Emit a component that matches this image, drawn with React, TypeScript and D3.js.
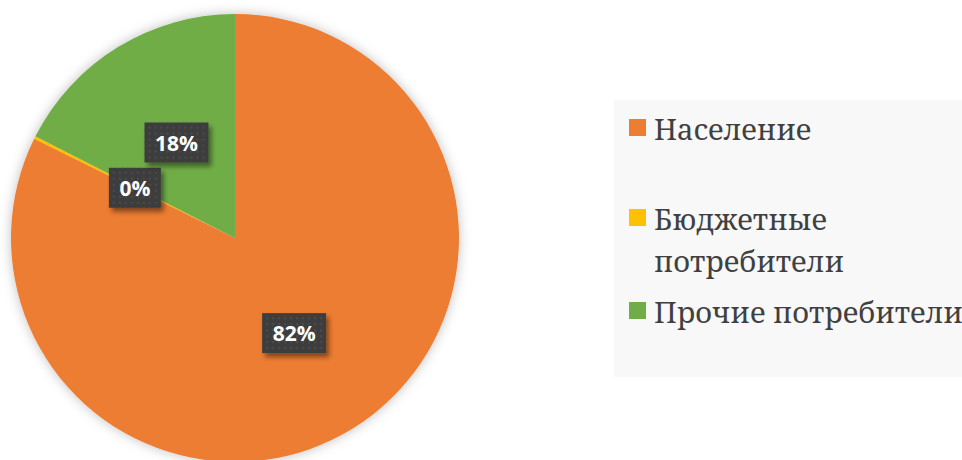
import React, { useEffect, useRef } from 'react';
import * as d3 from 'd3';

const categories = ['Население', 'Бюджетные потребители', 'Прочие потребители'];
const legendLines = [['Население'], ['Бюджетные', 'потребители'], ['Прочие потребители']];
const values = [82.3, 0.2, 17.5];
const colors = ['#ED7D31', '#FFC000', '#70AD47'];

const legendFont = "'Noto Serif', 'Liberation Serif', serif";

export default function App() {
  const ref = useRef<SVGGElement>(null);

  useEffect(() => {
    const cx = 235;
    const cy = 238;
    const radius = 224;

    const root = d3.select(ref.current);
    root.selectAll('*').remove();

    const pie = d3.pie<number>().sort(null).value((d) => d);
    const arcs = pie(values);
    const arc = d3.arc<d3.PieArcDatum<number>>().innerRadius(0).outerRadius(radius);
    const labelArc = d3.arc<d3.PieArcDatum<number>>().innerRadius(radius * 0.5).outerRadius(radius * 0.5);

    const g = root.append('g').attr('transform', `translate(${cx},${cy})`);
    g.append('g').attr('filter', 'url(#pie-shadow)')
      .selectAll('path')
      .data(arcs)
      .enter()
      .append('path')
      .attr('d', arc)
      .attr('fill', (d, i) => colors[i]);

    const total = d3.sum(values);
    const labels = g.selectAll('g.lbl')
      .data(arcs)
      .enter()
      .append('g')
      .attr('class', 'lbl')
      .attr('transform', (d) => {
        const [x, y] = labelArc.centroid(d);
        return `translate(${x},${y})`;
      });

    labels.each(function (d) {
      const sel = d3.select(this);
      const txt = `${Math.round((d.value / total) * 100)}%`;
      const w = txt.length * 12 + 28;
      sel.append('rect')
        .attr('x', -w / 2).attr('y', -20).attr('width', w).attr('height', 40)
        .attr('fill', 'url(#dots)')
        .attr('filter', 'url(#box-shadow)');
      sel.append('text')
        .attr('text-anchor', 'middle')
        .attr('y', 8)
        .style('font-family', "'Open Sans', sans-serif")
        .style('font-weight', 'bold')
        .style('font-size', '21px')
        .attr('fill', '#fff')
        .text(txt);
    });
  }, []);

  const baselines = [140, 230, 323];

  return (
    <svg width={962} height={460}
      style={{ position: 'absolute', left: 0, top: 0, display: 'block' }}>
      <defs>
        <filter id="pie-shadow" x="-10%" y="-10%" width="120%" height="120%">
          <feDropShadow dx={0} dy={0} stdDeviation={6} floodColor="#000" floodOpacity={0.25} />
        </filter>
        <filter id="box-shadow" x="-20%" y="-20%" width="150%" height="160%">
          <feDropShadow dx={3} dy={4} stdDeviation={2.5} floodColor="#000" floodOpacity={0.45} />
        </filter>
        <pattern id="dots" width={6} height={6} patternUnits="userSpaceOnUse">
          <rect width={6} height={6} fill="#3d3d3d" />
          <rect x={2} y={2} width={2} height={2} fill="#4c4c4c" />
        </pattern>
      </defs>
      <rect width={962} height={460} fill="#fff" />
      <g ref={ref} />
      <g>
        <rect x={614} y={100} width={348} height={277} fill="#f8f8f8" />
        {categories.map((c, i) => (
          <g key={c}>
            <rect x={629} y={baselines[i] - 21} width={17} height={17} fill={colors[i]} />
            <text style={{ fontFamily: legendFont, fontSize: 29 }} fill="#404040">
              {legendLines[i].map((line, j) => (
                <tspan key={line} x={654} y={baselines[i] + j * 42}>{line}</tspan>
              ))}
            </text>
          </g>
        ))}
      </g>
    </svg>
  );
}
